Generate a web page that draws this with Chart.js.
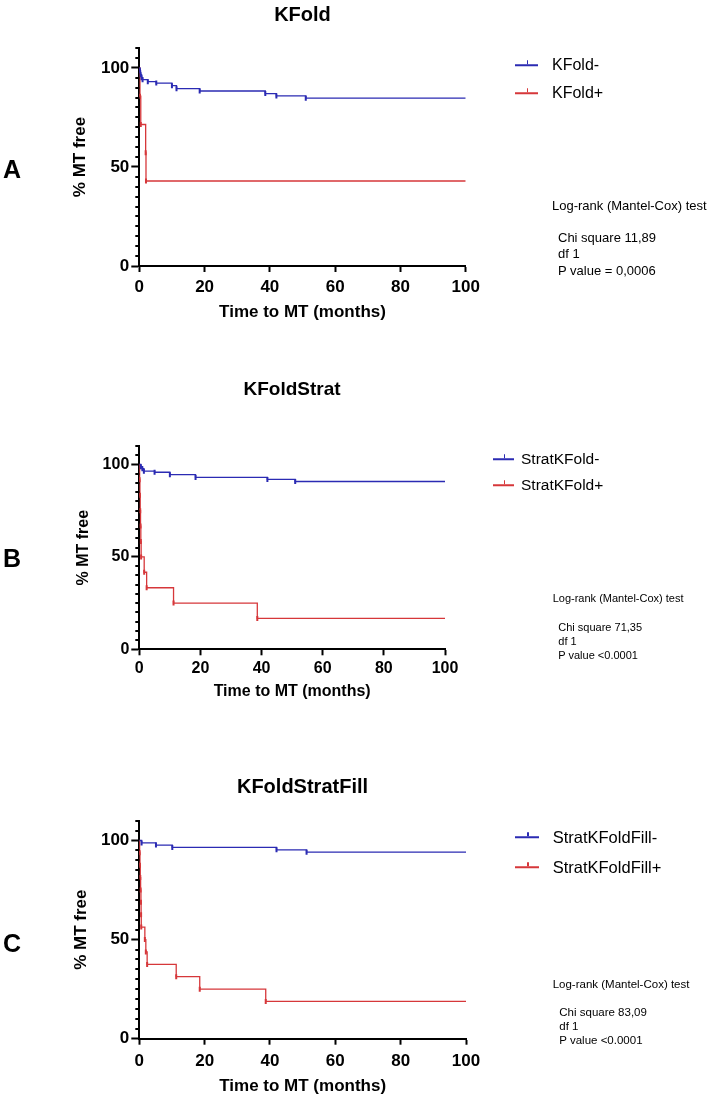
<!DOCTYPE html>
<html><head><meta charset="utf-8">
<script src="https://cdn.jsdelivr.net/npm/chart.js@4.4.1/dist/chart.umd.min.js"></script>
<style>
html,body{margin:0;padding:0;background:#fff;}
body{width:709px;height:1099px;position:relative;overflow:hidden;font-family:"Liberation Sans",Arial,Helvetica,sans-serif;color:#000;}
.abs{position:absolute;white-space:nowrap;line-height:1;transform:translateY(-50%);}
canvas{position:absolute;left:0;}
.letter{font-weight:bold;font-size:25px;}
.sym{position:absolute;height:1.5px;transform:translateY(-50%);}
.sym i{position:absolute;left:50%;top:-4px;width:1.5px;height:4px;background:inherit;}
</style>
</head>
<body>
<script>
const BLUE = '#2b2bb3', RED = '#d6373a';

const xTickValues = [0, 20, 40, 60, 80, 100];
const yTickValues = [0,5,10,15,20,25,30,35,40,45,50,55,60,65,70,75,80,85,90,95,100,105,110];
const yLabelledTicks = [0, 50, 100];
const xAxisTitle = 'Time to MT (months)';
const yAxisTitle = '% MT free';

// Panel A
const titleA = 'KFold';
const legendA = ['KFold-', 'KFold+'];
const timeA_neg = [0, 0.2, 0.4, 0.7, 1.0, 2.6, 5.2, 10.0, 11.4, 18.5, 38.6, 42.0, 51.0, 100];
const survA_neg = [100, 98.5, 96.5, 95.0, 94.0, 93.0, 92.3, 91.0, 89.5, 88.3, 87.0, 85.8, 84.7, 84.7];
const timeA_pos = [0, 0.2, 0.45, 1.95, 2.05, 100];
const survA_pos = [100, 85.7, 71.4, 57.1, 42.9, 42.9];
const statsA = ['Log-rank (Mantel-Cox) test', 'Chi square 11,89', 'df 1', 'P value = 0,0006'];

// Panel B
const titleB = 'KFoldStrat';
const legendB = ['StratKFold-', 'StratKFold+'];
const timeB_neg = [0, 0.5, 1.0, 1.5, 5.0, 10.0, 18.4, 41.9, 51.0, 100];
const survB_neg = [100, 98.8, 97.7, 96.4, 95.8, 94.5, 93.0, 91.9, 90.8, 90.8];
const timeB_pos = [0, 0.1, 0.2, 0.3, 0.4, 0.5, 0.6, 1.6, 2.4, 11.2, 38.6, 100];
const survB_pos = [100, 91.7, 83.3, 75.0, 66.7, 58.3, 50.0, 41.7, 33.3, 25.0, 16.7, 16.7];
const statsB = ['Log-rank (Mantel-Cox) test', 'Chi square 71,35', 'df 1', 'P value <0.0001'];

// Panel C
const titleC = 'KFoldStratFill';
const legendC = ['StratKFoldFill-', 'StratKFoldFill+'];
const timeC_neg = [0, 0.7, 5.1, 10.1, 42.0, 51.2, 100];
const survC_neg = [100, 98.8, 97.7, 96.5, 95.3, 94.1, 94.1];
const timeC_pos = [0, 0.1, 0.2, 0.3, 0.4, 0.5, 0.55, 0.6, 1.7, 2.0, 2.4, 11.3, 18.5, 38.7, 100];
const survC_pos = [100, 93.8, 87.5, 81.3, 75.0, 68.8, 62.5, 56.3, 50.0, 43.8, 37.5, 31.3, 25.0, 18.8, 18.8];
const statsC = ['Log-rank (Mantel-Cox) test', 'Chi square 83,09', 'df 1', 'P value <0.0001'];

// layout (styles / positions)
const panels = [
  {letter:'A', letterY:169, title:titleA, legend:legendA, stats:statsA,
   negT:timeA_neg, negS:survA_neg, posT:timeA_pos, posS:survA_pos,
   canvasTop:0, canvasH:330, titleY:15, areaTop:48, areaBottom:266, areaLeft:139.3, areaRight:465.7,
   titleSize:20, tickSize:17, axisSize:17, yTitleX:80, xLabelGap:5, xTitleOff:46,
   legX:515, legW:23, legTextX:552, legY:[65,93], legSize:16,
   statX:552, statIndent:6, statY:[205,237,253,270], statSize:13},
  {letter:'B', letterY:558, title:titleB, legend:legendB, stats:statsB,
   negT:timeB_neg, negS:survB_neg, posT:timeB_pos, posS:survB_pos,
   canvasTop:375, canvasH:330, titleY:390, areaTop:446, areaBottom:649.3, areaLeft:139.3, areaRight:445,
   titleSize:19, tickSize:16, axisSize:16, yTitleX:84, xLabelGap:4, xTitleOff:42,
   legX:493, legW:21, legTextX:521, legY:[459,485], legSize:15.5,
   statX:552.7, statIndent:5.6, statY:[598,626.7,641,655], statSize:11},
  {letter:'C', letterY:943, title:titleC, legend:legendC, stats:statsC,
   negT:timeC_neg, negS:survC_neg, posT:timeC_pos, posS:survC_pos,
   canvasTop:772, canvasH:327, titleY:787, areaTop:820.7, areaBottom:1038.7, areaLeft:139.3, areaRight:466,
   titleSize:20, tickSize:17, axisSize:17, yTitleX:81.7, xLabelGap:6, xTitleOff:48,
   legX:515, legW:24, legTextX:552.7, legY:[837,867], legSize:16.5,
   statX:552.7, statIndent:6.6, statY:[985,1013,1027,1041], statSize:11.5}
];

const FONT = '"Liberation Sans", Arial, Helvetica, sans-serif';

const minorTicks = {
  id: 'minorTicks',
  afterDraw(chart) {
    const s = chart.scales.y, ctx = chart.ctx;
    ctx.save();
    ctx.strokeStyle = '#000'; ctx.lineWidth = 2;
    yTickValues.forEach(v => {
      if (yLabelledTicks.includes(v)) return;
      const py = Math.round(s.getPixelForValue(v));
      ctx.beginPath(); ctx.moveTo(s.right - 4, py); ctx.lineTo(s.right, py); ctx.stroke();
    });
    ctx.restore();
  }
};

function addText(txt, x, y, css) {
  const d = document.createElement('div');
  d.className = 'abs'; d.textContent = txt;
  d.style.left = x + 'px'; d.style.top = y + 'px';
  Object.assign(d.style, css || {});
  document.body.appendChild(d);
  return d;
}

function series(T, S) { return T.map((t, i) => ({x: t, y: S[i]})); }

panels.forEach((p, k) => {
  const cx = (p.areaLeft + p.areaRight) / 2;
  const W = 2 * cx;
  const cv = document.createElement('canvas');
  cv.width = Math.round(W); cv.height = p.canvasH;
  cv.style.top = p.canvasTop + 'px'; cv.style.width = Math.round(W) + 'px'; cv.style.height = p.canvasH + 'px';
  document.body.appendChild(cv);

  const tLH = p.titleSize * 1.2;
  const titlePadTop = p.titleY - p.canvasTop - tLH / 2;
  const titlePadBottom = (p.areaTop - p.canvasTop) - titlePadTop - tLH;
  const axLH = p.axisSize * 1.2;
  const xH = p.xTitleOff + axLH / 2;
  const padBottom = p.canvasH - (p.areaBottom - p.canvasTop) - xH;
  const rightW = Math.round(W) - p.areaRight;

  const lineDs = (label, T, S, color) => ({
    label, data: series(T, S), stepped: 'before', borderColor: color, backgroundColor: color,
    borderWidth: 1.3, fill: false, pointStyle: 'line', pointRotation: 90,
    pointRadius: c => (c.dataIndex === 0 || c.dataIndex === T.length - 1) ? 0 : 2.5,
    pointBorderWidth: 2, pointBorderColor: color, pointHoverRadius: 0
  });

  new Chart(cv, {
    type: 'line',
    data: { datasets: [
      lineDs(p.legend[0], p.negT, p.negS, BLUE),
      lineDs(p.legend[1], p.posT, p.posS, RED)
    ]},
    options: {
      responsive: false, animation: false, devicePixelRatio: 1, events: [],
      layout: { padding: { left: 0, right: 0, top: 0, bottom: padBottom } },
      plugins: {
        legend: { display: false }, tooltip: { enabled: false },
        title: { display: true, text: p.title, color: '#000',
          font: { family: FONT, size: p.titleSize, weight: 'bold', lineHeight: 1.2 },
          padding: { top: titlePadTop, bottom: titlePadBottom } }
      },
      scales: {
        x: {
          type: 'linear', min: 0, max: 100,
          afterBuildTicks: s => { s.ticks = xTickValues.map(v => ({value: v})); },
          afterFit: s => { s.height = xH; },
          border: { display: true, color: '#000', width: 2 },
          grid: { drawOnChartArea: false, drawTicks: true, tickLength: 6, tickColor: '#000', tickWidth: 2 },
          ticks: { color: '#000', padding: p.xLabelGap, maxRotation: 0, autoSkip: false,
            font: { family: FONT, size: p.tickSize, weight: 'bold' } },
          title: { display: true, text: xAxisTitle, color: '#000', padding: 0,
            font: { family: FONT, size: p.axisSize, weight: 'bold', lineHeight: 1.2 } }
        },
        y: {
          type: 'linear', min: 0, max: 110,
          afterBuildTicks: s => { s.ticks = yTickValues.map(v => ({value: v})); },
          afterFit: s => { s.width = p.areaLeft; },
          border: { display: true, color: '#000', width: 2 },
          grid: { drawOnChartArea: false, drawTicks: true, tickLength: 8, tickWidth: 2,
            tickColor: c => (c.tick && yLabelledTicks.includes(c.tick.value)) ? '#000' : 'rgba(0,0,0,0)' },
          ticks: { color: '#000', padding: 2, autoSkip: false,
            callback: v => yLabelledTicks.includes(v) ? String(v) : '',
            font: { family: FONT, size: p.tickSize, weight: 'bold' } },
          title: { display: true, text: yAxisTitle, color: '#000',
            padding: { top: p.yTitleX - axLH / 2, bottom: 0 },
            font: { family: FONT, size: p.axisSize, weight: 'bold', lineHeight: 1.2 } }
        },
        spacer: {
          type: 'linear', position: 'right', display: true, min: 0, max: 110,
          afterFit: s => { s.width = rightW; },
          border: { display: false }, grid: { display: false }, ticks: { display: false }
        }
      }
    },
    plugins: [minorTicks]
  });

  // panel letter
  addText(p.letter, 3, p.letterY).className = 'abs letter';

  // legend
  [BLUE, RED].forEach((c, i) => {
    const s = document.createElement('div');
    s.className = 'sym';
    s.style.left = p.legX + 'px'; s.style.top = p.legY[i] + 'px';
    s.style.width = p.legW + 'px'; s.style.background = c;
    s.appendChild(document.createElement('i'));
    document.body.appendChild(s);
    addText(p.legend[i], p.legTextX, p.legY[i], { fontSize: p.legSize + 'px' });
  });

  // stats
  p.stats.forEach((t, i) => {
    addText(t, p.statX + (i === 0 ? 0 : p.statIndent), p.statY[i], { fontSize: p.statSize + 'px' });
  });
});
</script>
</body></html>
